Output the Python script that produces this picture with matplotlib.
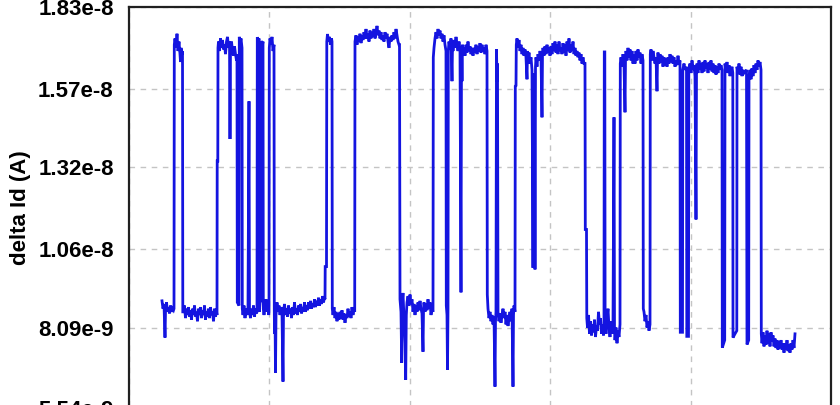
import numpy as np
import matplotlib
matplotlib.use("Agg")
import matplotlib.pyplot as plt

# delta Id trace, (time, current in units of 1e-9 A)
# split in four stretches so the lists stay readable
trace_a = [
    (33, 8.95), (34, 8.7), (35, 8.85), (36, 7.78), (36.5, 8.6), (37.5, 8.9), (38.5, 8.6),
    (39.5, 8.75), (40.5, 8.55), (41.5, 8.8), (42.5, 8.6), (43.5, 8.7), (44.5, 8.65),
    (45, 8.7), (45.3, 17.1), (46, 17.3), (47, 17.0), (48, 17.45), (49, 16.9), (50, 17.2),
    (51, 16.8), (51.5, 16.55), (52, 17.0), (53, 16.8), (53.5, 16.9), (53.8, 8.6),
    (54.5, 8.6), (55.5, 8.8), (56.5, 8.4), (57.5, 8.7), (58.5, 8.5), (59.5, 8.75), (60.5, 8.45),
    (61.5, 8.65), (62.5, 8.35), (63.5, 8.7), (64.5, 8.5), (65.5, 8.8), (66.5, 8.45), (67.5, 8.6),
    (68.5, 8.3), (69.5, 8.7), (70.5, 8.5), (71.5, 8.75), (72.5, 8.4), (73.5, 8.65), (74.5, 8.5),
    (75.5, 8.8), (76.5, 8.35), (77.5, 8.6), (78.5, 8.45), (79.5, 8.7), (80.5, 8.4), (81.5, 8.75),
    (82.5, 8.5), (83.5, 8.6), (84.5, 8.3), (85.5, 8.7), (86.5, 8.45), (87.5, 8.6),
    (88, 8.5), (88.2, 13.4), (88.8, 13.4), (89, 17.0), (89.5, 17.2), (90.5, 16.9), (91.5, 17.3),
    (92.5, 17.0), (93.5, 17.25), (94.5, 16.95), (95.5, 17.1), (96.5, 16.8), (97.5, 17.2),
    (98.5, 17.35), (99.5, 17.0), (100.5, 17.2), (101, 14.1), (101.5, 17.0), (102.5, 17.2),
    (103.5, 16.9), (104.5, 16.75), (105.5, 17.05), (106.5, 16.8), (107.5, 16.6),
    (108, 16.8), (108.3, 8.9), (110, 8.8), (110.3, 17.35), (111, 17.1), (112, 17.3), (113, 17.0),
    (113.3, 8.7), (114, 8.5), (115, 8.8), (116, 8.4), (117, 8.7), (118, 8.5), (119, 8.75),
    (120, 15.3), (120.5, 8.6), (121.5, 8.4), (122.5, 8.7), (123.5, 8.5), (124.5, 8.8),
    (125.5, 8.45), (126.5, 8.7), (127.5, 8.55), (128, 8.6), (128.3, 17.34), (129.5, 17.2),
    (130, 17.3), (130.3, 8.6), (131, 8.9), (132, 8.95), (132.3, 17.22), (133.5, 17.1), (134, 17.2),
    (134.3, 8.7), (135, 8.5), (136, 8.8), (137, 9.0), (138, 8.6), (139, 8.8), (139.7, 8.5),
    (140, 8.6), (140.3, 17.0), (141, 17.3), (142, 17.1), (143, 17.35), (144, 16.9), (145, 17.1),
    (145.3, 8.7), (145.5, 7.9), (146, 8.6), (146.5, 6.66), (147, 8.5), (148, 8.9), (149, 8.6),
    (150, 8.8), (151, 8.5), (152, 8.75), (153, 8.55), (154, 6.38), (154.5, 8.6), (155.5, 8.85),
    (156.5, 8.5), (157.5, 8.7), (158.5, 8.45), (159.5, 8.8), (160.5, 8.55), (161.5, 8.7),
    (162.5, 8.4), (163.5, 8.75), (164.5, 8.5), (165.5, 8.9), (166.5, 8.55), (167.5, 8.7),
    (168.5, 8.5), (169.5, 8.8), (170.5, 8.6), (171.5, 8.85), (172.5, 8.55), (173.5, 8.75),
    (174.5, 8.6), (175.5, 8.9), (176.5, 8.6), (177.5, 8.8), (178.5, 8.65), (179.5, 8.9),
    (180.5, 8.7), (181.5, 8.95), (182.5, 8.7), (183.5, 8.85), (184.5, 8.75), (185.5, 9.0),
    (186.5, 8.75), (187.5, 8.95), (188.5, 8.8), (189.5, 9.05), (190.5, 8.8), (191.5, 9.0),
    (192.5, 8.85), (193.5, 9.1), (194.5, 8.9), (195.5, 9.05),
]

trace_b = [
    (196, 9.0), (196.2, 10.04), (197.5, 10.04), (197.8, 17.2), (198.5, 17.44), (199.5, 17.2),
    (200.5, 17.35), (201.5, 17.1), (202.5, 17.3), (203, 17.2), (203.3, 8.7),
    (204, 8.5), (205, 8.75), (206, 8.4), (207, 8.6), (208, 8.3), (209, 8.55), (210, 8.35),
    (211, 8.6), (212, 8.4), (213, 8.65), (214, 8.35), (215, 8.55), (216, 8.25), (217, 8.5),
    (218, 8.4), (219, 8.7), (220, 8.45), (221, 8.6), (222, 8.4), (223, 8.75), (224, 8.5),
    (225, 8.7), (225.7, 8.6),
    (226, 17.2), (227, 17.4), (228, 17.1), (229, 17.35), (230, 17.2), (231, 17.45), (232, 17.15),
    (233, 17.4), (234, 17.25), (235, 17.5), (236, 17.3), (237, 17.6), (238, 17.3), (239, 17.45),
    (240, 17.2), (241, 17.55), (242, 17.3), (243, 17.5), (244, 17.35), (245, 17.6), (246, 17.3),
    (247, 17.45), (248, 17.7), (249, 17.4), (250, 17.55), (251, 17.3), (252, 17.5), (253, 17.25),
    (254, 17.4), (255, 17.2), (256, 17.5), (257, 17.3), (258, 17.45), (259, 17.2), (260, 17.0),
    (261, 17.35), (262, 17.2), (263, 17.4), (264, 17.25), (265, 17.5), (266, 17.3), (267, 17.6),
    (268, 17.4), (269, 17.2), (270, 17.1),
    (270.5, 17.1), (271, 9.0), (272, 8.6), (272.7, 6.98), (273.2, 8.9), (274, 9.2), (275, 8.4),
    (276, 7.6), (276.7, 6.44), (277.3, 8.5), (278, 8.9), (279, 9.1), (280, 8.8), (281, 9.15),
    (282, 8.85), (283, 9.0), (284, 8.6), (285, 8.85), (286, 8.5), (287, 8.8), (288, 8.6),
    (289, 8.9), (290, 8.65), (291, 8.95), (292, 8.7), (293, 8.55), (294, 7.33), (294.5, 8.6),
    (295, 8.9), (296, 8.6), (297, 8.85), (298, 8.65), (299, 9.0), (300, 8.7), (301, 8.9),
    (302, 8.5), (303, 8.7), (304, 8.6),
]

trace_c = [
    (304.3, 16.7), (305, 17.0), (306, 17.3), (307, 17.5), (308, 17.3), (309, 17.6), (310, 17.4),
    (311, 17.55), (312, 17.3), (313, 17.45), (314, 17.2), (315, 17.4), (316, 17.1), (317, 16.9),
    (317.3, 8.8), (318, 8.5), (318.5, 6.76), (319, 8.7), (319.3, 16.9), (320, 17.2), (321, 16.95),
    (322, 17.3), (323, 15.94), (323.5, 17.1), (324, 16.9), (325, 17.25), (326, 17.0), (327, 17.35),
    (328, 17.1), (329, 16.9), (330, 17.2), (331, 16.95), (332, 9.22), (332.5, 16.9), (333, 15.94),
    (333.5, 17.1), (334, 16.8), (335, 17.0), (336, 16.75), (337, 17.1), (338, 16.85), (339, 17.2),
    (340, 16.9), (341, 17.05), (342, 16.8), (343, 17.0), (344, 16.75), (345, 17.0), (346, 16.85),
    (347, 17.1), (348, 16.8), (349, 17.05), (350, 16.9), (351, 17.15), (352, 16.85), (353, 17.1),
    (354, 16.9), (355, 17.0), (356, 16.8), (357, 17.1), (358, 16.9),
    (358.3, 9.15), (359, 8.7), (360, 8.4), (361, 8.6), (362, 8.3), (363, 8.5), (364, 8.2),
    (365, 8.45), (366, 6.22), (366.5, 8.3), (367, 8.6), (367.5, 16.96), (368, 15.94), (368.5, 16.5),
    (369, 8.6), (370, 8.3), (371, 8.55), (372, 8.25), (373, 8.5), (374, 8.7), (375, 8.4),
    (376, 8.6), (377, 8.2), (378, 8.5), (379, 8.15), (380, 8.4), (381, 8.6), (382, 8.3),
    (383, 8.7), (384, 6.22), (384.5, 8.5), (385, 8.8), (386, 8.6),
    (386.3, 15.78), (387, 15.8), (387.3, 17.1), (388, 17.3), (389, 17.0), (390, 17.25), (391, 16.9),
    (392, 17.1), (393, 16.8), (394, 17.0), (395, 16.75), (396, 16.95), (397, 16.7), (398, 16.0),
    (398.5, 16.9), (399, 16.6), (400, 16.85), (401, 16.5), (402, 16.7), (403, 16.3), (404, 10.0),
    (404.5, 16.2), (405, 11.0), (405.5, 15.9), (406, 9.95), (406.5, 16.4), (407, 16.7),
    (408, 16.4), (409, 16.8), (410, 16.6), (411, 16.9), (412, 16.7), (413, 14.79), (413.5, 16.8),
    (414, 17.0), (415, 16.75), (416, 17.05), (417, 16.8), (418, 17.1), (419, 16.85), (420, 17.0),
    (421, 16.75), (422, 17.05), (423, 16.8), (424, 17.15), (425, 16.9), (426, 17.2), (427, 16.85),
    (428, 17.1), (429, 16.8), (430, 17.2), (431, 16.9), (432, 17.0), (433, 16.8), (434, 17.15),
    (435, 16.85), (436, 17.1), (437, 16.75), (438, 17.2), (439, 16.9), (440, 17.3), (441, 16.85),
    (442, 17.1), (443, 16.9), (444, 17.2), (445, 16.8), (446, 17.0), (447, 16.75), (448, 16.9),
    (449, 16.7), (450, 16.85), (451, 16.6), (452, 16.8), (453, 16.5), (454, 16.7), (455, 16.5),
]

trace_d = [
    (456, 16.5), (456.3, 11.22), (457.5, 11.22), (457.8, 8.4),
    (458.5, 8.1), (459.5, 8.5), (460.5, 7.9), (461.5, 8.3), (462.5, 7.85), (463.5, 8.2),
    (464.5, 7.95), (465.5, 8.35), (466.5, 7.8), (467.5, 8.15), (468.5, 8.0), (469.5, 8.6),
    (470.5, 8.2), (471.5, 8.4), (472.5, 7.9), (473.5, 8.2), (474.5, 7.85),
    (475, 8.2), (475.3, 16.87), (475.8, 16.87), (476.1, 8.3), (477, 7.9), (478, 8.4), (479, 8.7),
    (480, 8.1), (481, 7.8), (482, 8.3), (483, 7.9), (484, 8.2), (485, 14.79), (485.5, 8.0),
    (486, 7.7), (487, 8.1), (488, 7.6), (489, 8.0), (490, 7.8), (491, 8.2),
    (491.3, 16.5), (492, 16.7), (493, 16.4), (494, 16.8), (495, 16.5), (496, 14.95), (496.5, 16.6),
    (497, 16.9), (498, 16.6), (499, 17.0), (500, 16.7), (501, 16.95), (502, 16.6), (503, 16.9),
    (504, 16.5), (505, 16.8), (506, 16.5), (507, 16.9), (508, 16.6), (509, 16.95), (510, 16.7),
    (511, 16.85), (512, 16.5), (513, 16.8), (514, 16.6),
    (514.3, 8.7), (515, 8.6), (516, 8.3), (517, 8.5), (518, 8.1), (519, 8.3), (520, 8.0), (521, 8.2),
    (521.3, 16.8), (522, 16.95), (523, 16.6), (524, 16.9), (525, 16.7), (526, 16.5), (527, 16.7),
    (528, 15.62), (528.5, 16.6), (529, 16.85), (530, 16.5), (531, 16.8), (532, 16.55), (533, 16.75),
    (534, 16.4), (535, 16.7), (536, 16.45), (537, 16.65), (538, 16.4), (539, 16.7), (540, 16.5),
    (541, 16.8), (542, 16.55), (543, 16.75), (544, 16.5), (545, 16.7), (546, 16.4), (547, 16.6),
    (548, 16.45), (549, 16.75), (550, 16.5), (551, 16.6),
    (551.3, 7.95), (553.5, 7.95), (553.8, 16.3), (555, 16.5), (556, 16.3), (557.5, 16.4),
    (557.8, 7.82), (559.5, 7.82), (559.8, 16.3),
    (561, 16.5), (562, 16.2), (563, 16.6), (564, 16.3), (565, 16.45), (566, 16.1), (567, 11.54),
    (567.5, 16.2), (568, 16.5), (569, 16.2), (570, 16.6), (571, 16.3), (572, 16.5), (573, 16.2),
    (574, 16.55), (575, 16.25), (576, 16.6), (577, 16.35), (578, 16.5), (579, 16.2), (580, 16.55),
    (581, 16.3), (582, 16.6), (583, 16.25), (584, 16.5), (585, 16.2), (586, 16.45), (587, 16.15),
    (588, 16.4), (589, 16.2), (590, 16.5), (591, 16.3), (592, 16.45), (593, 16.3),
    (593.3, 7.46), (595.7, 7.7), (596, 16.5), (597, 16.3), (598, 16.55), (599, 16.2), (600, 16.45),
    (601, 16.1), (602, 16.3), (603, 16.4), (603.8, 16.2),
    (604, 7.78), (606, 7.9), (607.8, 8.0), (608, 16.4), (609, 16.2), (610, 16.5), (611, 16.15),
    (612, 16.4), (613, 16.1), (614, 16.3), (615, 16.2), (617.5, 16.3),
    (618, 7.56), (619.7, 7.7), (620, 16.1), (621, 16.3), (622, 16.0), (623, 16.35), (624, 16.1),
    (625, 16.45), (626, 16.2), (627, 16.5), (628, 16.3), (629, 16.6), (630, 16.4), (631, 16.55),
    (632, 16.3),
    (632.3, 7.9), (633, 7.6), (634, 7.95), (635, 7.5), (636, 7.85), (637, 7.55), (638, 8.0),
    (639, 7.6), (640, 7.9), (641, 7.5), (642, 7.95), (643, 7.65), (644, 7.85), (645, 7.5),
    (646, 7.75), (647, 7.45), (648, 7.7), (649, 7.4), (650, 7.65), (651, 7.45), (652, 7.7),
    (653, 7.4), (654, 7.6), (655, 7.3), (656, 7.6), (657, 7.4), (658, 7.7), (659, 7.35),
    (660, 7.55), (661, 7.3), (662, 7.6), (663, 7.4), (664, 7.7), (665, 7.45), (666, 7.9),
]

y_ticks = [5.54e-9, 8.09e-9, 1.06e-8, 1.32e-8, 1.57e-8, 1.83e-8]
y_tick_labels = ["5.54e-9", "8.09e-9", "1.06e-8", "1.32e-8", "1.57e-8", "1.83e-8"]
x_max = 702

pts = np.array(trace_a + trace_b + trace_c + trace_d)
t = pts[:, 0]
id_delta = pts[:, 1] * 1e-9

fig = plt.figure(figsize=(8.4, 4.05), dpi=100)
# the original picture is a crop: axes run past the bottom edge
ax = fig.add_axes([129 / 840, -3 / 405, 702 / 840, 401 / 405])

ax.plot(t, id_delta, color="#1414e0", lw=2.0, solid_joinstyle="miter")

ax.set_xlim(0, x_max)
ax.set_ylim(y_ticks[0], y_ticks[-1])
ax.set_xticks(np.linspace(0, x_max, 6))
ax.set_xticklabels([])
ax.set_yticks(y_ticks)
ax.set_yticklabels(y_tick_labels, fontsize=16, fontweight="bold", family="Liberation Sans")
ax.tick_params(length=0, pad=11)
ax.grid(True, color="#c4c4c4", ls=(0, (4, 4)), lw=1)

for s in ax.spines.values():
    s.set_linewidth(1.6)
    s.set_color("#202020")

ax.set_ylabel("delta Id (A)", fontsize=16, fontweight="bold", family="Liberation Sans")
ax.yaxis.set_label_coords(-0.14, 0.5)

fig.savefig("out.png", dpi=100)
